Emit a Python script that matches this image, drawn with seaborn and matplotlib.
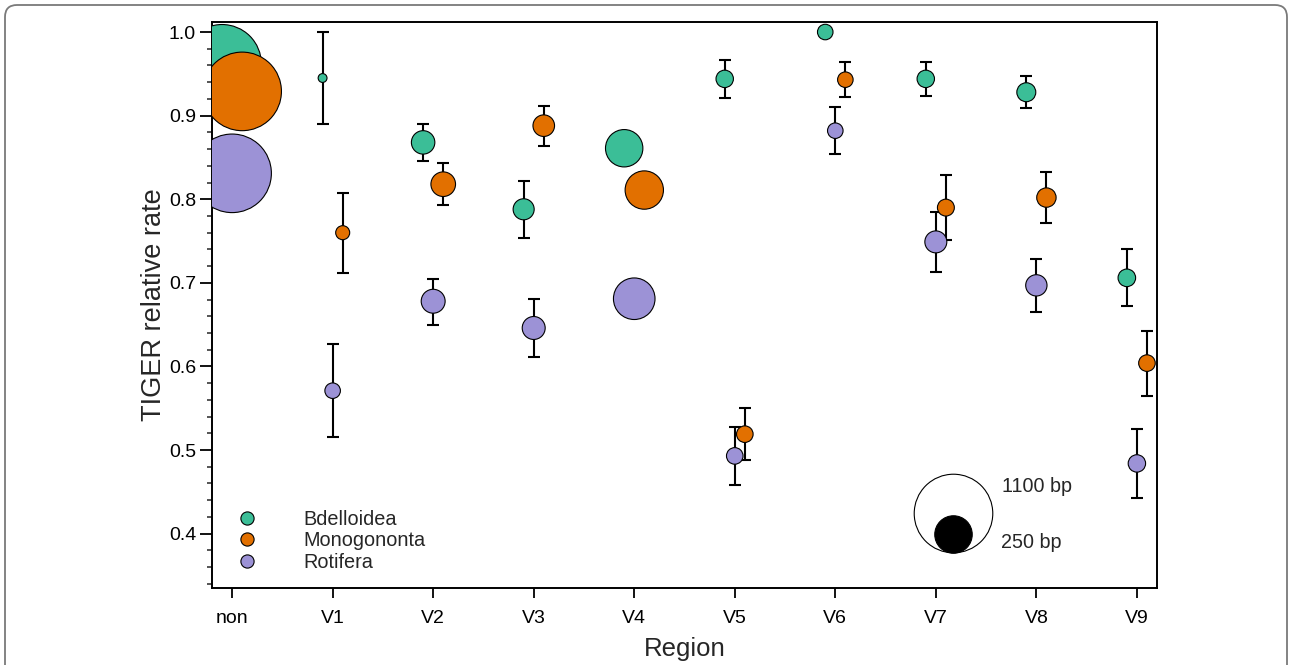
import numpy as np
import pandas as pd
import seaborn as sns
import matplotlib.pyplot as plt
import matplotlib.transforms as mtransforms
from matplotlib.lines import Line2D
from matplotlib.patches import FancyBboxPatch
from matplotlib.ticker import MultipleLocator, FormatStrFormatter

# 数据
regions = ['non', 'V1', 'V2', 'V3', 'V4', 'V5', 'V6', 'V7', 'V8', 'V9']
groups = ['Bdelloidea', 'Monogononta', 'Rotifera']
colors = ['#3BBE97', '#E27000', '#9C92D6']
nan = np.nan

bdel_rate = [0.962, 0.945, 0.868, 0.788, 0.861, 0.944, 1.000, 0.944, 0.928, 0.706]
bdel_lo = [nan, 0.890, 0.846, 0.754, nan, 0.921, nan, 0.924, 0.909, 0.672]
bdel_hi = [nan, 1.000, 0.890, 0.822, nan, 0.967, nan, 0.964, 0.947, 0.740]
bdel_bp = [1170, 14, 98, 79, 249, 54, 43, 54, 64, 55]

mono_rate = [0.929, 0.760, 0.818, 0.888, 0.811, 0.519, 0.943, 0.790, 0.802, 0.604]
mono_lo = [nan, 0.712, 0.793, 0.864, nan, 0.488, 0.922, 0.751, 0.771, 0.565]
mono_hi = [nan, 0.807, 0.843, 0.912, nan, 0.550, 0.964, 0.829, 0.833, 0.642]
mono_bp = [1170, 35, 108, 83, 262, 49, 43, 51, 67, 49]

roti_rate = [0.831, 0.571, 0.678, 0.646, 0.681, 0.493, 0.882, 0.749, 0.697, 0.484]
roti_lo = [nan, 0.516, 0.649, 0.611, nan, 0.458, 0.854, 0.713, 0.665, 0.443]
roti_hi = [nan, 0.627, 0.705, 0.681, nan, 0.528, 0.910, 0.785, 0.728, 0.525]
roti_bp = [1170, 43, 102, 94, 308, 49, 43, 86, 81, 54]

key_bp = [1100, 250]
key_labels = ['1100 bp', '250 bp']

# 样式
offsets = {'Bdelloidea': -0.1, 'Monogononta': 0.1, 'Rotifera': 0.0}
S_MAX = 3200  # 1100 bp 对应的面积 (pt^2)


def size_of(bp):
    return S_MAX * bp / 1100.0


frames = []
for g, rate, lo, hi, bp in [('Bdelloidea', bdel_rate, bdel_lo, bdel_hi, bdel_bp),
                            ('Monogononta', mono_rate, mono_lo, mono_hi, mono_bp),
                            ('Rotifera', roti_rate, roti_lo, roti_hi, roti_bp)]:
    frames.append(pd.DataFrame({'region': regions, 'group': g, 'rate': rate,
                                'lo': lo, 'hi': hi, 'bp': bp}))
df = pd.concat(frames, ignore_index=True)
df['xpos'] = df['region'].map({r: i for i, r in enumerate(regions)}) + df['group'].map(offsets)

sns.set_style('ticks')
plt.rcParams['font.family'] = ['Liberation Sans', 'DejaVu Sans']

fig = plt.figure(figsize=(12.9, 6.65), dpi=100)
ax = fig.add_axes([212 / 1290, 1 - 588 / 665, 945 / 1290, 566 / 665])

# 误差线
eb = df.dropna(subset=['lo'])
ax.errorbar(eb['xpos'], eb['rate'], yerr=[eb['rate'] - eb['lo'], eb['hi'] - eb['rate']],
            fmt='none', ecolor='black', elinewidth=1.5, capsize=4.6, capthick=1.5, zorder=2)

# 散点
sns.scatterplot(data=df, x='xpos', y='rate', hue='group', hue_order=groups, palette=colors,
                size='bp', sizes=(0, S_MAX), size_norm=(0, 1100), edgecolor='black',
                linewidth=0.8, legend=False, ax=ax, zorder=3)

ax.set_xlim(-0.2, 9.2)
ax.set_ylim(0.335, 1.012)
ax.set_xticks(range(len(regions)))
ax.set_xticklabels(regions)
ax.yaxis.set_major_locator(MultipleLocator(0.1))
ax.yaxis.set_minor_locator(MultipleLocator(0.02))
ax.yaxis.set_major_formatter(FormatStrFormatter('%.1f'))
ax.tick_params(axis='both', labelsize=14, width=1.3, color='black', labelcolor='black')
ax.tick_params(axis='y', which='major', length=8.5, pad=3)
ax.tick_params(axis='y', which='minor', length=3.5, width=1.1)
ax.tick_params(axis='x', which='major', length=7, pad=9)
for sp in ax.spines.values():
    sp.set_visible(True)
    sp.set_linewidth(1.4)
    sp.set_color('black')

ax.set_xlabel('Region', fontsize=18.5, labelpad=7)
ax.set_ylabel('TIGER relative rate', fontsize=19.5, labelpad=1)

# 图例
handles = [Line2D([], [], marker='o', linestyle='none', markerfacecolor=c,
                  markeredgecolor='black', markeredgewidth=0.8, markersize=9.5)
           for c in colors]
ax.legend(handles, groups, loc='upper left', bbox_to_anchor=(0.016, 0.138), fontsize=14.3,
          frameon=False, borderpad=0, borderaxespad=0, handlelength=2, handletextpad=1.85,
          labelspacing=0.12)

# 大小图例
kx, ky = 0.784, 0.1325
r_big = np.sqrt(size_of(key_bp[0])) / 2
r_small = np.sqrt(size_of(key_bp[1])) / 2
ax.scatter([kx], [ky], s=size_of(key_bp[0]), transform=ax.transAxes, facecolor='white',
           edgecolor='black', linewidth=0.8, zorder=4, clip_on=False)
tr = mtransforms.offset_copy(ax.transAxes, fig=fig, x=0, y=-(r_big - r_small), units='points')
ax.scatter([kx], [ky], s=size_of(key_bp[1]), transform=tr, facecolor='black',
           edgecolor='black', linewidth=0.8, zorder=5, clip_on=False)
ax.text(0.8355, 0.180, key_labels[0], transform=ax.transAxes, fontsize=14.2, va='center', ha='left')
ax.text(0.8345, 0.080, key_labels[1], transform=ax.transAxes, fontsize=14.2, va='center', ha='left')

# 外框
frame = FancyBboxPatch((5, -60), 1282, 720, boxstyle='round,pad=0,rounding_size=12',
                       transform=None, facecolor='none', edgecolor='#7a7a7a', linewidth=1.3)
fig.add_artist(frame)

fig.savefig('out.png', dpi=100)
